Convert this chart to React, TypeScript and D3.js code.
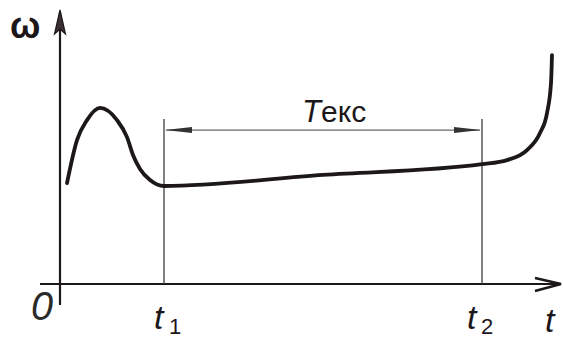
import React from "react";
import * as d3 from "d3";

// Angular speed ω against time t: start-up transient, long service
// period between t1 and t2, then the runaway rise at the end.
const curveT = [1.4, 3.4, 5.4, 8.0, 11.4, 13.4, 14.6, 16.0, 18.0, 20.8, 52.6, 84.4, 89.4, 93.4, 96.0, 97.4, 98.2, 98.4];
const curveW = [37.4, 53.3, 60.7, 65.2, 60.7, 54.4, 47.8, 42.6, 38.5, 36.3, 40.4, 44.4, 45.9, 49.6, 55.9, 63.3, 74.4, 84.8];
const markT = [20.8, 84.4];
const markLabels = ["1", "2"];
const dimensionW = 57.0;
const guideTopW = 61.1;

const W = 563;
const H = 340;

export default function App() {
  const x = d3.scaleLinear().domain([0, 100]).range([60, 560]);
  const y = d3.scaleLinear().domain([0, 100]).range([284, 14]);

  const pts: [number, number][] = curveT.map((t, i) => [t, curveW[i]]);
  const line = d3
    .line<[number, number]>()
    .x((d) => x(d[0]))
    .y((d) => y(d[1]))
    .curve(d3.curveMonotoneX);

  const x0 = x(0);
  const y0 = y(0);
  const xa = x(markT[0]);
  const xb = x(markT[1]);
  const yd = y(dimensionW);
  const font = "'Liberation Sans', Arial, sans-serif";
  const ink = "#1c1719";
  // label offsets (t glyph, subscript) relative to each guide line
  const labelDx = [
    [-10, 5],
    [-15, -1],
  ];

  return (
    <div style={{ position: "absolute", left: 0, top: 0 }}>
      <svg width={W} height={H} viewBox={`0 0 ${W} ${H}`} style={{ display: "block", background: "#fff" }}>
        {/* axes */}
        <line x1={40} y1={y0} x2={561} y2={y0} stroke={ink} strokeWidth={2.2} />
        <line x1={x0} y1={305} x2={x0} y2={12} stroke={ink} strokeWidth={2.2} />
        {/* t-axis arrow */}
        <polyline
          points={`535,278 561,${y0} 535,291`}
          fill="none"
          stroke={ink}
          strokeWidth={2.4}
          strokeLinejoin="miter"
        />
        {/* ω-axis arrow */}
        <path d={`M${x0},10 L${x0 - 5.5},34 L${x0},29 L${x0 + 5.5},34 Z`} fill="#3a3034" stroke={ink} strokeWidth={1.2} />

        {/* guide lines at t1 and t2 */}
        {markT.map((t, i) => (
          <line key={i} x1={x(t)} y1={y(guideTopW)} x2={x(t)} y2={y0} stroke="#3d3d3d" strokeWidth={1.3} />
        ))}

        {/* dimension line for the service period */}
        <line x1={xa + 2} y1={yd} x2={xb - 2} y2={yd} stroke="#6a6a6a" strokeWidth={1.3} />
        <path d={`M${xa + 1},${yd} L${xa + 28},${yd - 3} L${xa + 28},${yd + 3} Z`} fill="#333" />
        <path d={`M${xb - 1},${yd} L${xb - 28},${yd - 3} L${xb - 28},${yd + 3} Z`} fill="#333" />
        <text x={302} y={122} fontFamily={font} fontSize={31} fontStyle="italic" fill={ink}>
          T
        </text>
        <text x={321} y={122} fontFamily={font} fontSize={30} fill={ink}>
          екс
        </text>

        {/* speed curve */}
        <path d={line(pts) || ""} fill="none" stroke={ink} strokeWidth={3.8} strokeLinecap="round" strokeLinejoin="round" />

        {/* labels */}
        <text x={10} y={38} fontFamily={font} fontSize={36} fontWeight="bold" fill={ink}>
          ω
        </text>
        <text
          x={31}
          y={320}
          fontFamily={font}
          fontSize={40}
          fontStyle="italic"
          fontWeight={300}
          textLength={22}
          lengthAdjust="spacingAndGlyphs"
          fill="#2a2a2a"
        >
          0
        </text>
        {markT.map((t, i) => (
          <g key={i}>
            <text x={x(t) + labelDx[i][0]} y={329} fontFamily={font} fontSize={34} fontStyle="italic" fill={ink}>
              t
            </text>
            <text x={x(t) + labelDx[i][1]} y={334} fontFamily={font} fontSize={22} fill={ink}>
              {markLabels[i]}
            </text>
          </g>
        ))}
        <text x={545} y={332} fontFamily={font} fontSize={34} fontStyle="italic" fill={ink}>
          t
        </text>
      </svg>
    </div>
  );
}
